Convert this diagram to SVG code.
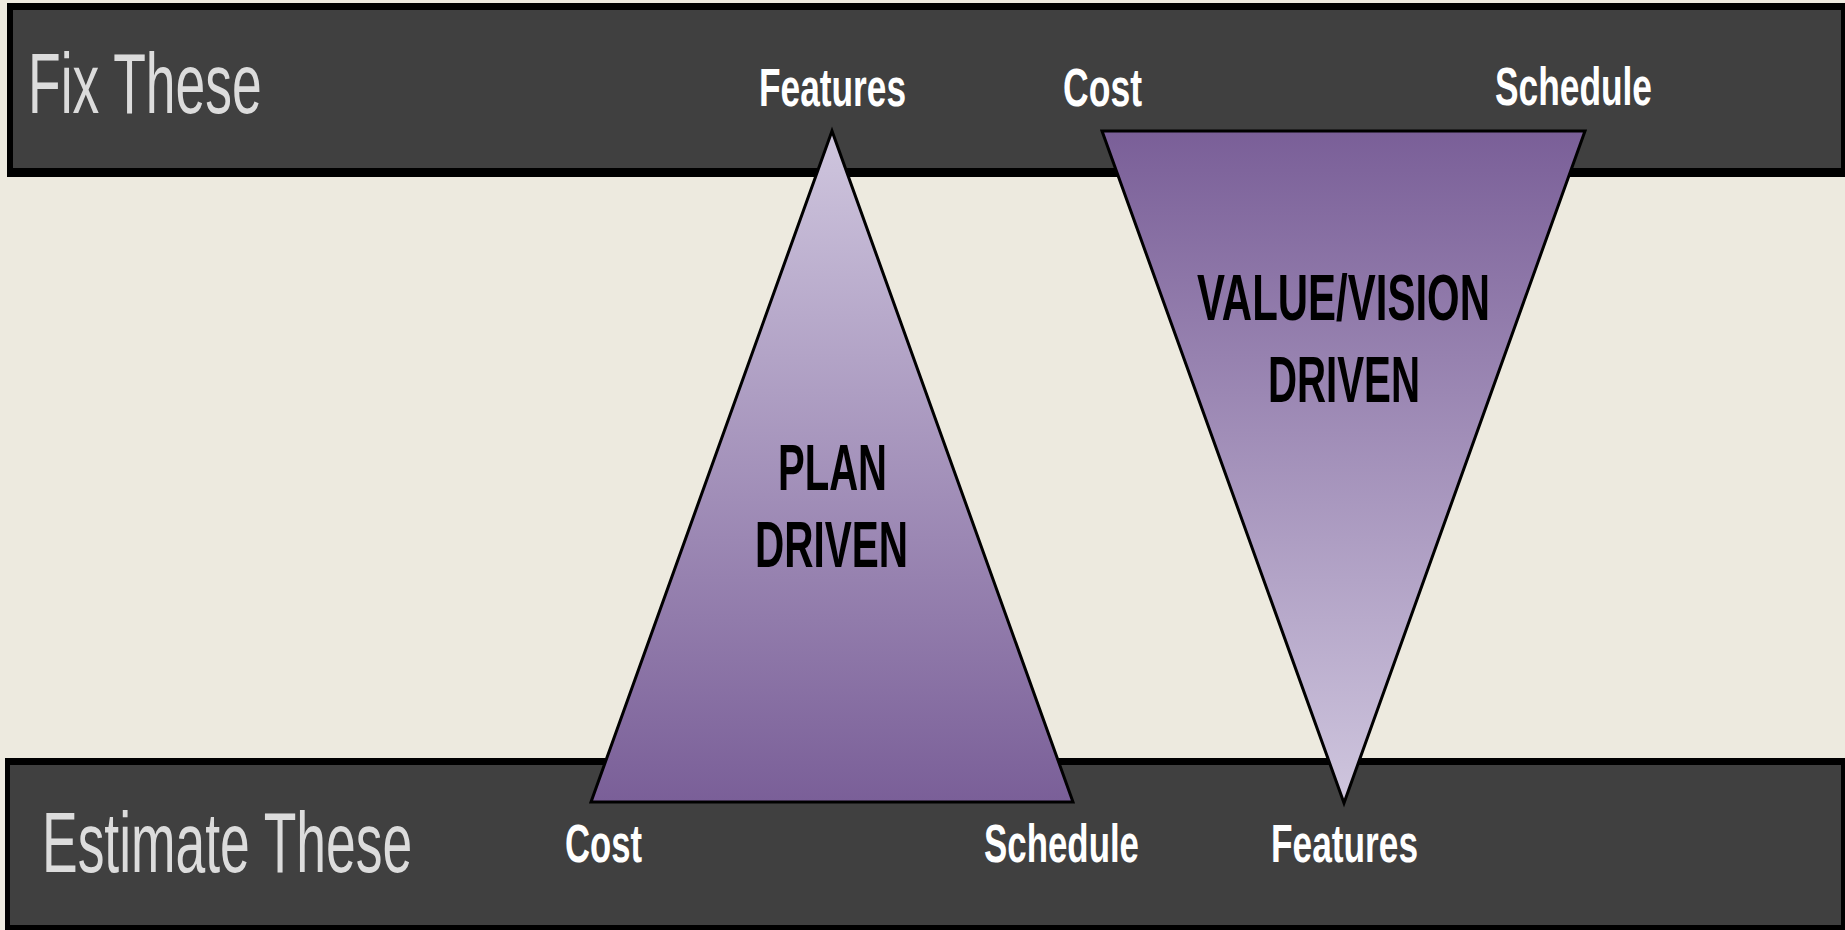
<svg xmlns="http://www.w3.org/2000/svg" width="1845" height="930" viewBox="0 0 1845 930">
<defs>
<linearGradient id="gUp" x1="0" y1="0" x2="0" y2="1">
<stop offset="0" stop-color="#cfc6de"/>
<stop offset="1" stop-color="#7a5f98"/>
</linearGradient>
<linearGradient id="gDown" x1="0" y1="0" x2="0" y2="1">
<stop offset="0" stop-color="#7a5f98"/>
<stop offset="1" stop-color="#cfc6de"/>
</linearGradient>
</defs>
<style>
.bar-border{fill:#000000}
.bar{fill:#404040}
.big{font-family:"Liberation Sans",Arial,sans-serif;font-size:86px;fill:#dcdcdc}
.lbl{font-family:"Liberation Sans",Arial,sans-serif;font-weight:bold;font-size:54px;fill:#ffffff}
.tri{stroke:#000000;stroke-width:3;stroke-linejoin:miter}
.inner{font-family:"Liberation Sans",Arial,sans-serif;font-weight:bold;font-size:64px;fill:#000000}
</style>
<rect x="0" y="0" width="1845" height="930" fill="#edeadf"/>
<g id="fix-bar">
<rect class="bar-border" x="7" y="3" width="1838" height="174"/>
<rect class="bar" x="13" y="10" width="1828" height="158"/>
<text class="big" transform="translate(28,113) scale(0.62,1)" x="0" y="0" textLength="377" lengthAdjust="spacingAndGlyphs">Fix These</text>
</g>
<g id="estimate-bar">
<rect class="bar-border" x="5" y="758" width="1840" height="172"/>
<rect class="bar" x="10" y="765" width="1831" height="160"/>
<text class="big" transform="translate(42,872) scale(0.62,1)" x="0" y="0" textLength="597" lengthAdjust="spacingAndGlyphs">Estimate These</text>
</g>
<g id="plan-driven">
<polygon class="tri" points="832,131 591,802 1073,802" fill="url(#gUp)"/>
<text class="inner" x="778" y="490" textLength="109" lengthAdjust="spacingAndGlyphs">PLAN</text>
<text class="inner" x="755" y="567" textLength="153" lengthAdjust="spacingAndGlyphs">DRIVEN</text>
</g>
<g id="value-driven">
<polygon class="tri" points="1102,131 1585,131 1344,803" fill="url(#gDown)"/>
<text class="inner" x="1197" y="320" textLength="293" lengthAdjust="spacingAndGlyphs">VALUE/VISION</text>
<text class="inner" x="1268" y="402" textLength="152" lengthAdjust="spacingAndGlyphs">DRIVEN</text>
</g>
<g id="labels">
<text class="lbl" x="759" y="106" textLength="147" lengthAdjust="spacingAndGlyphs">Features</text>
<text class="lbl" x="1063" y="106" textLength="79" lengthAdjust="spacingAndGlyphs">Cost</text>
<text class="lbl" x="1495" y="105" textLength="157" lengthAdjust="spacingAndGlyphs">Schedule</text>
<text class="lbl" x="565" y="862" textLength="77" lengthAdjust="spacingAndGlyphs">Cost</text>
<text class="lbl" x="984" y="862" textLength="155" lengthAdjust="spacingAndGlyphs">Schedule</text>
<text class="lbl" x="1271" y="862" textLength="147" lengthAdjust="spacingAndGlyphs">Features</text>
</g>
</svg>
